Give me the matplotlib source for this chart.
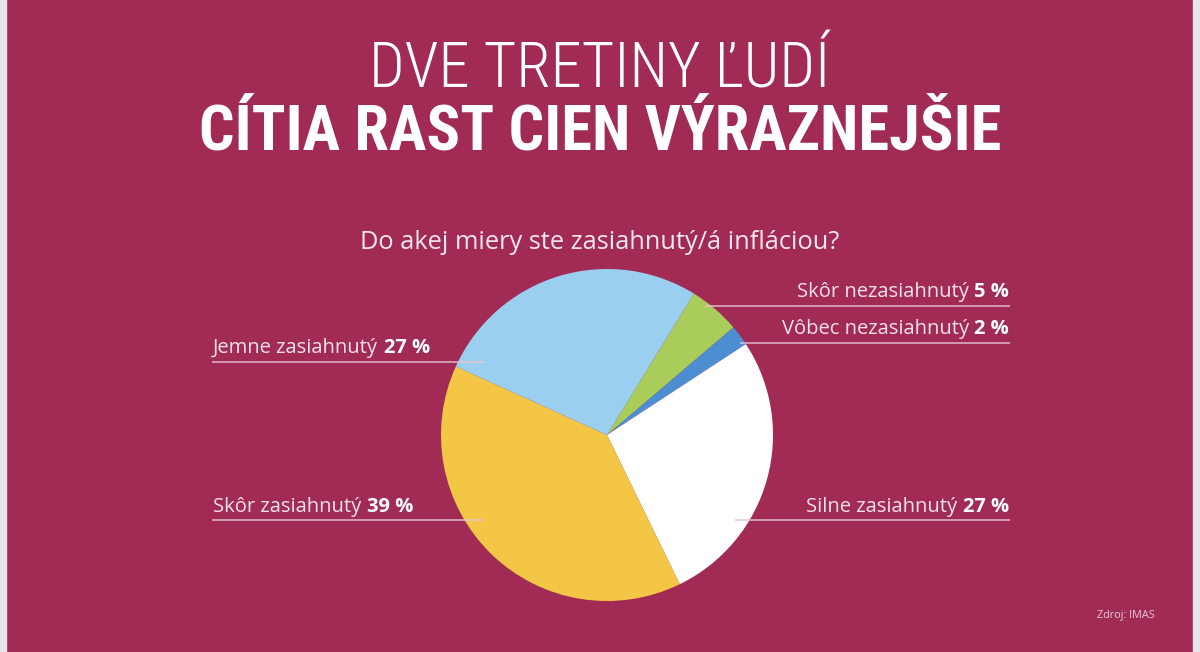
import matplotlib
matplotlib.use('Agg')
import matplotlib.pyplot as plt
from matplotlib import font_manager
from matplotlib.patches import Rectangle

# ---- data ----
categories = ['Skôr nezasiahnutý', 'Vôbec nezasiahnutý', 'Silne zasiahnutý',
              'Skôr zasiahnutý', 'Jemne zasiahnutý']
values = [5, 2, 27, 39, 27]
value_labels = ['5 %', '2 %', '27 %', '39 %', '27 %']
colors = ['#A9CC5B', '#4B8ED2', '#FFFFFF', '#F4C646', '#9BCFEF']

title1 = 'DVE TRETINY ĽUDÍ'
title2 = 'CÍTIA RAST CIEN VÝRAZNEJŠIE'
subtitle = 'Do akej miery ste zasiahnutý/á infláciou?'
source = 'Zdroj: IMAS'

# ---- fonts ----
names = {f.name for f in font_manager.fontManager.ttflist}
def pick(*cands):
    for c in cands:
        if c in names:
            return c
    return 'DejaVu Sans'
title_font = pick('Roboto Condensed', 'Liberation Sans Narrow', 'DejaVu Sans')
body_font = pick('Open Sans', 'Noto Sans', 'DejaVu Sans')

W, H = 1200, 652
BG = '#A12B55'
fig = plt.figure(figsize=(W / 100, H / 100), dpi=100)
fig.patch.set_facecolor(BG)
ax = fig.add_axes([0, 0, 1, 1])
ax.set_facecolor(BG)

def Y(p):
    return H - p

cx, cy, r = 607, 435, 166
ax.pie(values, colors=colors, startangle=58.4, counterclock=False,
       center=(cx, Y(cy)), radius=r, frame=True,
       wedgeprops=dict(linewidth=0))
ax.set_xlim(0, W)
ax.set_ylim(0, H)
ax.set_aspect('auto')
ax.axis('off')

# side strips
fig.patches.append(Rectangle((0, 0), 6 / W, 1, transform=fig.transFigure,
                             color='#E8E6EC', zorder=10))
fig.patches.append(Rectangle((1193 / W, 0), 7 / W, 1, transform=fig.transFigure,
                             color='#E8E6EC', zorder=10))

# titles
ax.text(600, Y(87), title1, ha='center', va='baseline', color='white',
        fontsize=45, family=title_font, fontweight='light')
ax.text(600, Y(150), title2, ha='center', va='baseline', color='white',
        fontsize=45, family=title_font, fontweight='bold')
ax.text(600, Y(249), subtitle, ha='center', va='baseline', color='#F6E6EE',
        fontsize=18.3, family=body_font, fontweight='normal')
ax.text(1155, Y(618), source, ha='right', va='baseline', color='#E8C6D6',
        fontsize=7.8, family=body_font)

# labels: (index, side, text x, baseline y, line y, line x0, line x1)
layout = [
    (0, 'right', 1009, 297, 306, 705, 1010),
    (1, 'right', 1009, 334, 343, 740, 1010),
    (2, 'right', 1009, 512, 520, 735, 1010),
    (3, 'left', 213, 512, 520, 212, 484),
    (4, 'left', 213, 353, 362, 212, 484),
]
LFS = 14.5
for idx, side, tx, by, ly, x0, x1 in layout:
    if side == 'left':
        t = ax.text(tx, Y(by), categories[idx], ha='left', va='baseline',
                    color='#F4E2EB', fontsize=LFS, family=body_font, zorder=5)
        ax.annotate(value_labels[idx], xy=(1, 0), xycoords=t,
                    xytext=(4, 0), textcoords='offset points',
                    ha='left', va='bottom', color='white', fontsize=LFS,
                    family=body_font, fontweight='bold', zorder=5)
    else:
        t = ax.text(tx, Y(by), value_labels[idx], ha='right', va='baseline',
                    color='white', fontsize=LFS, family=body_font,
                    fontweight='bold', zorder=5)
        ax.annotate(categories[idx], xy=(0, 0), xycoords=t,
                    xytext=(-4, 0), textcoords='offset points',
                    ha='right', va='bottom', color='#F4E2EB', fontsize=LFS,
                    family=body_font, zorder=5)
    ax.plot([x0, x1], [Y(ly), Y(ly)], color='#E6C4D4', lw=1.2,
            alpha=0.85, zorder=6, solid_capstyle='butt')

fig.savefig('out.png', dpi=100, facecolor=BG)
